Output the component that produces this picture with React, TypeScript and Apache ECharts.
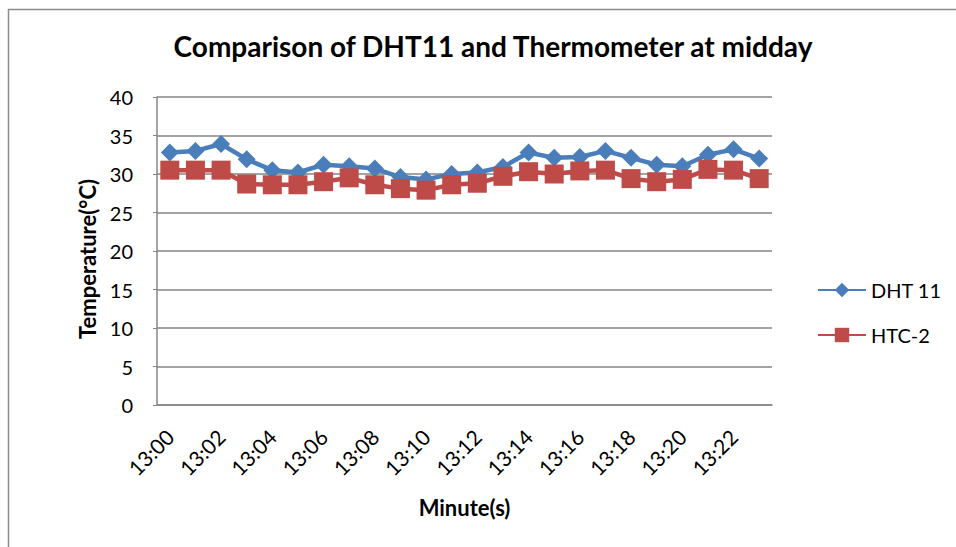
import React, { useEffect, useRef } from "react";
import * as echarts from "echarts";

const categories = [
  "13:00", "13:01", "13:02", "13:03", "13:04", "13:05", "13:06", "13:07",
  "13:08", "13:09", "13:10", "13:11", "13:12", "13:13", "13:14", "13:15",
  "13:16", "13:17", "13:18", "13:19", "13:20", "13:21", "13:22", "13:23",
];
const dht11 = [
  32.8, 33.0, 33.9, 31.9, 30.5, 30.2, 31.2, 31.0, 30.7, 29.6, 29.3, 30.0,
  30.2, 30.9, 32.8, 32.1, 32.2, 33.0, 32.1, 31.2, 31.0, 32.5, 33.2, 32.0,
];
const htc2 = [
  30.5, 30.5, 30.5, 28.7, 28.6, 28.6, 29.0, 29.5, 28.6, 28.1, 27.9, 28.6,
  28.8, 29.7, 30.3, 30.0, 30.4, 30.5, 29.4, 29.0, 29.3, 30.6, 30.5, 29.4,
];
const seriesNames = ["DHT 11", "HTC-2"];
const titleText = "Comparison of DHT11 and Thermometer at midday";
const xName = "Minute(s)";
const yName = "Temperature(°C)";

const FONT = "Lato, 'Open Sans', sans-serif";

export default function App() {
  const ref = useRef<HTMLDivElement>(null);
  useEffect(() => {
    if (!ref.current) return;
    const chart = echarts.init(ref.current, null, { renderer: "svg" });
    chart.setOption({
      animation: false,
      backgroundColor: "#ffffff",
      textStyle: { fontFamily: FONT },
      title: {
        text: titleText,
        left: 488,
        textAlign: "center",
        top: 27,
        textStyle: { fontFamily: FONT, fontWeight: "bold", fontSize: 28, color: "#000" },
      },
      graphic: [
        { type: "line", shape: { x1: 8.5, y1: 9, x2: 8.5, y2: 547 }, style: { stroke: "#8c8c8c", lineWidth: 1.5 } },
        { type: "line", shape: { x1: 8, y1: 9.5, x2: 956, y2: 9.5 }, style: { stroke: "#8c8c8c", lineWidth: 1.5 } },
      ],
      legend: {
        orient: "vertical",
        left: 812,
        top: 275,
        itemWidth: 48,
        itemHeight: 18,
        itemGap: 25,
        textStyle: { fontFamily: FONT, fontSize: 20, color: "#000" },
        data: seriesNames,
      },
      grid: { left: 157, right: 184, top: 97, bottom: 142, containLabel: false },
      xAxis: {
        type: "category",
        data: categories,
        boundaryGap: true,
        name: xName,
        nameLocation: "middle",
        nameGap: 91,
        nameTextStyle: { fontFamily: FONT, fontWeight: "bold", fontSize: 22, color: "#000" },
        axisLine: { lineStyle: { color: "#868686", width: 1.5 } },
        axisTick: { show: false },
        axisLabel: { interval: 1, rotate: 45, fontFamily: FONT, fontSize: 21, color: "#000", margin: 28 },
        splitLine: { show: false },
      },
      yAxis: {
        type: "value",
        min: 0,
        max: 40,
        interval: 5,
        name: yName,
        nameLocation: "middle",
        nameGap: 54,
        nameTextStyle: { fontFamily: FONT, fontWeight: "bold", fontSize: 22, color: "#000", padding: [0, 16, 0, 0] },
        axisLine: { show: true, lineStyle: { color: "#868686", width: 1.5 } },
        axisTick: { show: true, length: 4, lineStyle: { color: "#868686" } },
        axisLabel: { fontFamily: FONT, fontSize: 20, color: "#000", margin: 24 },
        splitLine: { lineStyle: { color: "#868686", width: 1.5 } },
      },
      series: [
        {
          name: seriesNames[0],
          type: "line",
          data: dht11,
          symbol: "diamond",
          symbolSize: 18,
          showAllSymbol: true,
          color: "#4A7EBB",
          lineStyle: { width: 4.5, color: "#4A7EBB" },
          itemStyle: { color: "#4A7EBB" },
        },
        {
          name: seriesNames[1],
          type: "line",
          data: htc2,
          symbol: "rect",
          symbolSize: 19,
          showAllSymbol: true,
          color: "#BE4B48",
          lineStyle: { width: 4.5, color: "#BE4B48" },
          itemStyle: { color: "#BE4B48" },
        },
      ],
    });
    return () => chart.dispose();
  }, []);
  return (
    <div
      ref={ref}
      style={{ position: "fixed", left: 0, top: 0, width: 956, height: 547 }}
    />
  );
}
